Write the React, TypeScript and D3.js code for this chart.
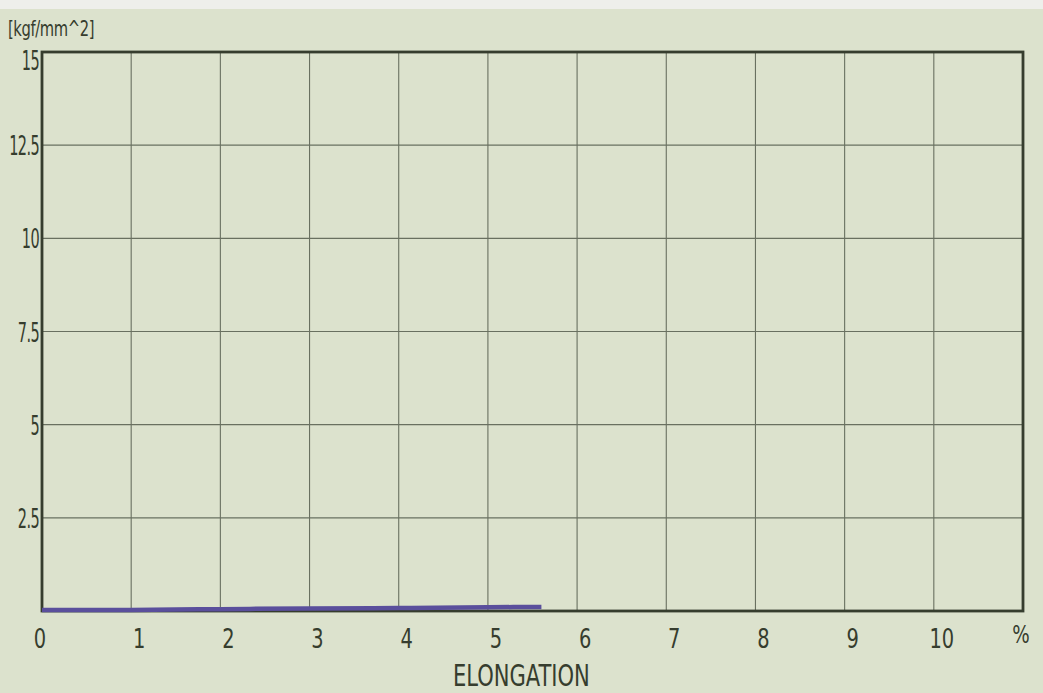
import * as d3 from "d3";
import { useEffect, useRef } from "react";

const chartWidth = 1043;
const chartHeight = 693;

// x axis: elongation in %, grid runs one step past the last label
const xTickValues = [0, 1, 2, 3, 4, 5, 6, 7, 8, 9, 10];
const xMax = 11;
const xUnit = "%";
const xTitle = "ELONGATION";

// y axis: stress
const yTickValues = [2.5, 5, 7.5, 10, 12.5, 15];
const yTickLabels = ["2.5", "5", "7.5", "10", "12.5", "15"];
const yUnit = "[kgf/mm^2]";

// measured curve (stays on the floor of the chart)
const elongation = [0, 1, 2, 3, 4, 5, 5.6];
const stress = [0.03, 0.03, 0.05, 0.07, 0.08, 0.1, 0.11];

const paper = "#dce2cd";
const ink = "#363d2e";
const gridInk = "#697060";
const curveColor = "#5a4f9c";
const fontFamily = "'DejaVu Sans Condensed', 'DejaVu Sans', sans-serif";

function App() {
  const svgRef = useRef<SVGSVGElement | null>(null);

  useEffect(() => {
    const svg = d3.select(svgRef.current);
    svg.selectAll("*").remove();

    const margin = { top: 52, right: 20, bottom: 82, left: 42 };
    const width = chartWidth - margin.left - margin.right;
    const height = chartHeight - margin.top - margin.bottom;

    svg
      .append("rect")
      .attr("width", chartWidth)
      .attr("height", chartHeight)
      .style("fill", paper);

    svg
      .append("rect")
      .attr("width", chartWidth)
      .attr("height", 9)
      .style("fill", "#eeefeb");

    const g = svg
      .append("g")
      .attr("transform", `translate(${margin.left}, ${margin.top})`)
      .style("font-family", fontFamily)
      .style("font-stretch", "condensed");

    const xScale = d3.scaleLinear().domain([0, xMax]).range([0, width]);
    const yScale = d3.scaleLinear().domain([0, 15]).range([height, 0]);

    // tall, narrow lettering like the printed sheet
    const squeeze = (x: number, y: number, sx: number) =>
      `translate(${x}, ${y}) scale(${sx}, 1)`;

    // grid
    g.selectAll(".vgrid")
      .data(xTickValues.filter((d) => d > 0))
      .join("line")
      .attr("class", "vgrid")
      .attr("x1", (d) => xScale(d))
      .attr("x2", (d) => xScale(d))
      .attr("y1", 0)
      .attr("y2", height)
      .style("stroke", gridInk)
      .style("stroke-width", 1.1);

    g.selectAll(".hgrid")
      .data(yTickValues.filter((d) => d < 15))
      .join("line")
      .attr("class", "hgrid")
      .attr("x1", 0)
      .attr("x2", width)
      .attr("y1", (d) => yScale(d))
      .attr("y2", (d) => yScale(d))
      .style("stroke", gridInk)
      .style("stroke-width", 1.1);

    // frame
    g.append("rect")
      .attr("x", 0)
      .attr("y", 0)
      .attr("width", width)
      .attr("height", height)
      .style("fill", "none")
      .style("stroke", ink)
      .style("stroke-width", 2.8);

    // curve
    const line = d3
      .line<number>()
      .x((d) => xScale(d))
      .y((_, i) => yScale(stress[i]))
      .curve(d3.curveMonotoneX);

    g.append("path")
      .datum(elongation)
      .attr("d", line)
      .style("fill", "none")
      .style("stroke", curveColor)
      .style("stroke-width", 4.5)
      .style("stroke-linecap", "butt");

    // y labels
    g.selectAll(".ylabel")
      .data(yTickValues)
      .join("text")
      .attr("class", "ylabel")
      .attr("transform", (d) =>
        squeeze(-3, yScale(d) + (d === 15 ? 18 : 10), 0.62),
      )
      .attr("text-anchor", "end")
      .text((_, i) => yTickLabels[i])
      .style("fill", ink)
      .style("font-size", "26px")
      .style("letter-spacing", "-1px");

    g.append("text")
      .attr("transform", squeeze(-34, -16, 0.78))
      .text(yUnit)
      .style("fill", ink)
      .style("font-size", "21px")
      .style("letter-spacing", "-0.5px");

    // x labels
    g.selectAll(".xlabel")
      .data(xTickValues)
      .join("text")
      .attr("class", "xlabel")
      .attr("transform", (d) =>
        squeeze(xScale(d) + (d === 0 ? -2 : 8), height + 37, 0.8),
      )
      .attr("text-anchor", "middle")
      .text((d) => `${d}`)
      .style("fill", ink)
      .style("font-size", "27px");

    g.append("text")
      .attr("transform", squeeze(xScale(xMax) - 2, height + 32, 0.85))
      .attr("text-anchor", "middle")
      .text(xUnit)
      .style("fill", ink)
      .style("font-size", "24px");

    g.append("text")
      .attr("transform", squeeze(xScale(5.6) - 20, height + 75, 0.78))
      .attr("text-anchor", "middle")
      .text(xTitle)
      .style("fill", ink)
      .style("font-size", "30px");
  }, []);

  return (
    <div style={{ position: "fixed", left: 0, top: 0 }}>
      <svg
        ref={svgRef}
        width={chartWidth}
        height={chartHeight}
        style={{ display: "block" }}
      ></svg>
    </div>
  );
}

export default App;
